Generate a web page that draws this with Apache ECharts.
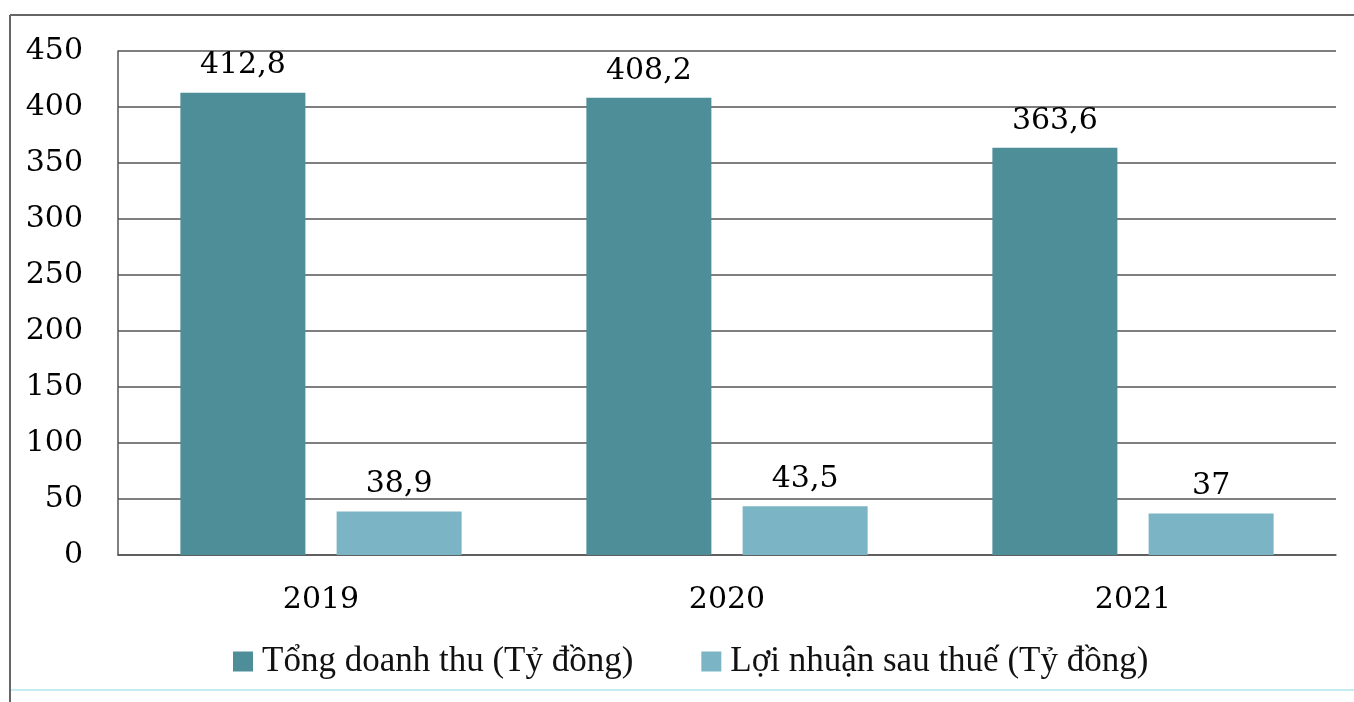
<!DOCTYPE html>
<html>
<head>
<meta charset="utf-8">
<script src="https://cdn.jsdelivr.net/npm/echarts@6/dist/echarts.min.js"></script>
<style>html,body{margin:0;padding:0;background:#fff}#c{width:1354px;height:702px}</style>
</head>
<body>
<div id="c"></div>
<script>
const categories = ['2019', '2020', '2021'];
const revenue = [412.8, 408.2, 363.6];
const profit = [38.9, 43.5, 37];
const seriesNames = ['Tổng doanh thu (Tỷ đồng)', 'Lợi nhuận sau thuế (Tỷ đồng)'];

const chart = echarts.init(document.getElementById('c'));
const numFont = 'DejaVu Serif';
const fmt = p => String(p.value).replace('.', ',');
chart.setOption({
  animation: false,
  backgroundColor: '#fff',
  graphic: [
    { type: 'line', shape: { x1: 10, y1: 15, x2: 1354, y2: 15 }, style: { stroke: '#666', lineWidth: 2 } },
    { type: 'line', shape: { x1: 10, y1: 15, x2: 10, y2: 702 }, style: { stroke: '#666', lineWidth: 2 } },
    { type: 'line', shape: { x1: 11, y1: 690, x2: 1354, y2: 690 }, style: { stroke: '#c4ecf1', lineWidth: 2 } }
  ],
  grid: { left: 118, right: 18, top: 51, bottom: 147 },
  legend: {
    bottom: 18,
    left: 228,
    itemWidth: 20, itemHeight: 20, itemGap: 68,
    icon: 'rect',
    textStyle: { fontFamily: 'Liberation Serif', fontSize: 35, color: '#111', padding: [0, 0, 0, 4] },
    data: seriesNames
  },
  xAxis: {
    type: 'category',
    data: categories,
    axisLine: { lineStyle: { color: '#555', width: 1.5 } },
    axisTick: { show: false },
    axisLabel: { fontFamily: numFont, fontSize: 30, color: '#000', margin: 30 }
  },
  yAxis: {
    type: 'value', min: 0, max: 450, interval: 50,
    axisLine: { show: true, lineStyle: { color: '#555', width: 1.5 } },
    axisTick: { show: false },
    splitLine: { lineStyle: { color: '#555', width: 1.5 } },
    axisLabel: { fontFamily: numFont, fontSize: 30, color: '#000', margin: 35 }
  },
  series: [
    {
      name: seriesNames[0], type: 'bar', data: revenue, barWidth: 125, barGap: '25%',
      itemStyle: { color: '#4d8e98' },
      label: { show: true, position: 'top', distance: 12, formatter: fmt, fontFamily: numFont, fontSize: 30, color: '#000' }
    },
    {
      name: seriesNames[1], type: 'bar', data: profit, barWidth: 125,
      itemStyle: { color: '#7bb5c5' },
      label: { show: true, position: 'top', distance: 12, formatter: fmt, fontFamily: numFont, fontSize: 30, color: '#000' }
    }
  ]
});
</script>
</body>
</html>
